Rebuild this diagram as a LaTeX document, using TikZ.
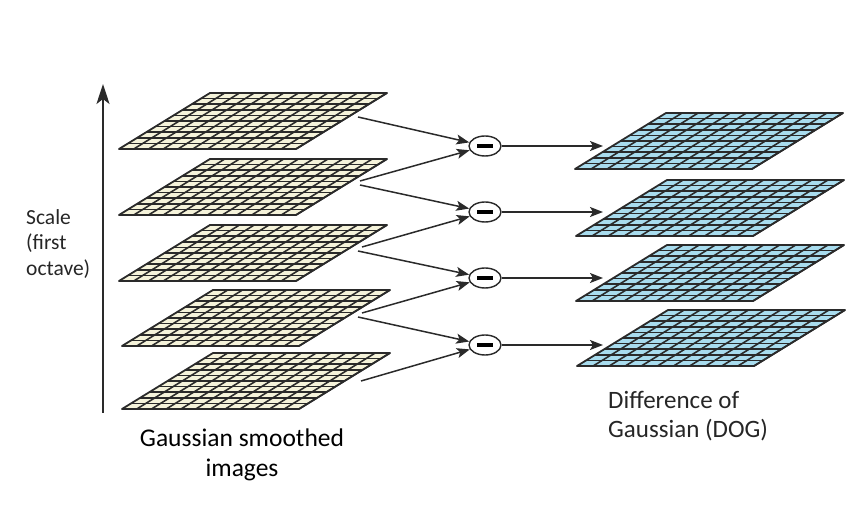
\documentclass[tikz,border=0pt]{standalone}
\usepackage{fontspec}
\setmainfont{Carlito}
\usetikzlibrary{arrows.meta,shapes.geometric}

\definecolor{creamcell}{HTML}{F5F3DA}
\definecolor{bluecell}{HTML}{A8DCEE}
\definecolor{gridink}{HTML}{2A2A2A}
\definecolor{labelink}{HTML}{262626}

\tikzset{
    gridline/.style={draw=gridink, line width=1.6pt},
    rim/.style={draw=gridink, line width=1.8pt, line join=round},
    arr/.style={draw=gridink, line width=1.5pt, -{Stealth[length=13pt,width=10pt,inset=3pt]}},
    axisarrow/.style={draw=gridink, line width=2pt, -{Stealth[length=20pt,width=13pt,inset=5pt]}},
    minus/.style={ellipse, draw=gridink, line width=1.4pt, fill=white,
        minimum width=32pt, minimum height=20pt, inner sep=0pt},
}

% one image layer: #1,#2 bottom left corner, #3 columns, #4 fill
\newcommand{\layer}[4]{%
    \begin{scope}[shift={(#1,#2)}]
        \fill[#4] (0,0) -- (177,0) -- (268,-56) -- (91,-56) -- cycle;
        \foreach \r in {1,...,9}
            \draw[gridline] (\r*9.1,-\r*5.6) -- ++(177,0);
        \foreach \c in {1,...,#3}
            \draw[gridline] (\c*177/#3,0) -- ++(91,-56);
        \draw[rim] (0,0) -- (177,0) -- (268,-56) -- (91,-56) -- cycle;
    \end{scope}}

\begin{document}
\begin{tikzpicture}[x=1pt,y=-1pt]
    \useasboundingbox (0,0) rectangle (868,510);

    % Gaussian smoothed images
    \layer{122}{409}{12}{creamcell}
    \layer{122}{346}{12}{creamcell}
    \layer{119}{281}{12}{creamcell}
    \layer{119}{215}{12}{creamcell}
    \layer{119}{149}{12}{creamcell}

    % difference of Gaussian
    \layer{577}{366}{11}{bluecell}
    \layer{576}{301}{11}{bluecell}
    \layer{576}{236}{11}{bluecell}
    \layer{575}{169}{11}{bluecell}

    % scale axis
    \coordinate (axisbot) at (103,413);
    \coordinate (axistop) at (103,84);
    \draw[axisarrow] (axisbot) -- (axistop);

    % subtraction
    \node[minus] (m1) at (485,146) {\rule[-2pt]{16pt}{4pt}};
    \node[minus] (m2) at (485,212) {\rule[-2pt]{16pt}{4pt}};
    \node[minus] (m3) at (485,278) {\rule[-2pt]{16pt}{4pt}};
    \node[minus] (m4) at (485,345) {\rule[-2pt]{16pt}{4pt}};

    \coordinate (g1) at (358,117);
    \coordinate (g2a) at (360,181);
    \coordinate (g2b) at (360,185);
    \coordinate (g3a) at (362,247);
    \coordinate (g3b) at (358,251);
    \coordinate (g4a) at (362,313);
    \coordinate (g4b) at (358,317);
    \coordinate (g5) at (361,381);

    \draw[arr] (g1) -- (m1);
    \draw[arr] (g2a) -- (m1);
    \draw[arr] (g2b) -- (m2);
    \draw[arr] (g3a) -- (m2);
    \draw[arr] (g3b) -- (m3);
    \draw[arr] (g4a) -- (m3);
    \draw[arr] (g4b) -- (m4);
    \draw[arr] (g5) -- (m4);

    \coordinate (d1) at (603,146);
    \coordinate (d2) at (603,212);
    \coordinate (d3) at (603,278);
    \coordinate (d4) at (603,345);
    \draw[arr] (m1) -- (d1);
    \draw[arr] (m2) -- (d2);
    \draw[arr] (m3) -- (d3);
    \draw[arr] (m4) -- (d4);

    % labels
    \node[anchor=north west, align=left, inner sep=0pt, text=labelink,
        font=\fontsize{21.5}{25.5}\selectfont] (scalelbl) at (26,209)
        {Scale\\(first\\octave)};
    \node[anchor=north, align=center, inner sep=0pt, text=black,
        font=\fontsize{25.5}{30}\selectfont] (gausslbl) at (242,429)
        {Gaussian smoothed\\images};
    \node[anchor=north west, align=left, inner sep=0pt, text=labelink,
        font=\fontsize{25}{29}\selectfont] (doglbl) at (608,391)
        {Difference of\\Gaussian (DOG)};
\end{tikzpicture}
\end{document}
